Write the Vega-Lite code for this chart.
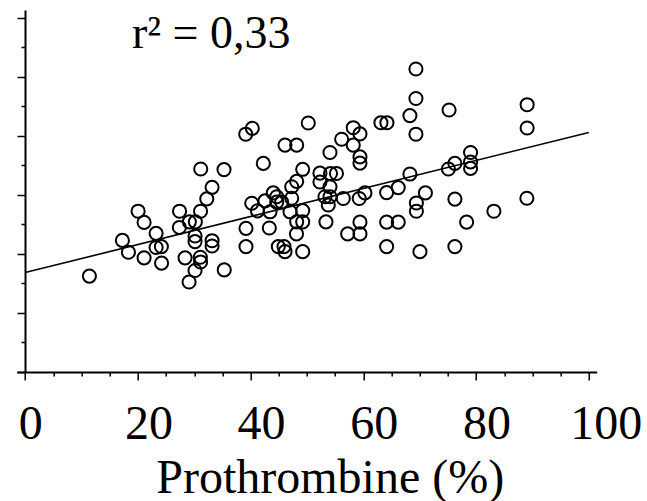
{
  "$schema": "https://vega.github.io/schema/vega-lite/v6.json",
  "autosize": "none",
  "width": 580,
  "height": 362,
  "padding": {"left": 16.7, "top": 10, "right": 50.3, "bottom": 129},
  "background": "white",
  "config": {"view": {"stroke": null}},
  "datasets": {
    "points": [
      {"prothrombine": 11.40, "value": 3.25}, {"prothrombine": 17.25, "value": 4.46}, {"prothrombine": 18.32, "value": 4.06},
      {"prothrombine": 20.04, "value": 5.45}, {"prothrombine": 21.10, "value": 5.07}, {"prothrombine": 21.10, "value": 3.87},
      {"prothrombine": 23.23, "value": 4.70}, {"prothrombine": 23.23, "value": 4.22}, {"prothrombine": 24.17, "value": 4.25},
      {"prothrombine": 24.20, "value": 3.69}, {"prothrombine": 27.39, "value": 5.45}, {"prothrombine": 27.36, "value": 4.90},
      {"prothrombine": 28.37, "value": 3.87}, {"prothrombine": 29.13, "value": 5.09}, {"prothrombine": 30.20, "value": 5.09},
      {"prothrombine": 31.15, "value": 6.88}, {"prothrombine": 35.28, "value": 6.86}, {"prothrombine": 33.16, "value": 6.26},
      {"prothrombine": 32.22, "value": 5.87}, {"prothrombine": 31.12, "value": 5.45}, {"prothrombine": 30.14, "value": 4.61},
      {"prothrombine": 30.14, "value": 4.42}, {"prothrombine": 31.08, "value": 3.89}, {"prothrombine": 31.12, "value": 3.73},
      {"prothrombine": 30.14, "value": 3.44}, {"prothrombine": 29.08, "value": 3.05}, {"prothrombine": 33.16, "value": 4.45},
      {"prothrombine": 33.16, "value": 4.27}, {"prothrombine": 35.32, "value": 3.46}, {"prothrombine": 39.13, "value": 8.06},
      {"prothrombine": 40.30, "value": 8.26}, {"prothrombine": 42.25, "value": 7.07}, {"prothrombine": 46.10, "value": 7.69},
      {"prothrombine": 48.17, "value": 7.69}, {"prothrombine": 50.23, "value": 8.44}, {"prothrombine": 39.18, "value": 4.87},
      {"prothrombine": 39.18, "value": 4.25}, {"prothrombine": 40.20, "value": 5.72}, {"prothrombine": 41.22, "value": 5.46},
      {"prothrombine": 42.55, "value": 5.80}, {"prothrombine": 43.44, "value": 5.43}, {"prothrombine": 44.02, "value": 6.07},
      {"prothrombine": 44.63, "value": 5.94}, {"prothrombine": 44.63, "value": 5.76}, {"prothrombine": 45.51, "value": 5.76},
      {"prothrombine": 43.32, "value": 4.88}, {"prothrombine": 44.91, "value": 4.25}, {"prothrombine": 45.92, "value": 4.25},
      {"prothrombine": 46.10, "value": 4.08}, {"prothrombine": 47.29, "value": 6.28}, {"prothrombine": 48.17, "value": 6.46},
      {"prothrombine": 47.29, "value": 5.89}, {"prothrombine": 46.99, "value": 5.43}, {"prothrombine": 49.24, "value": 5.47},
      {"prothrombine": 48.17, "value": 5.09}, {"prothrombine": 49.24, "value": 5.09}, {"prothrombine": 48.14, "value": 4.68},
      {"prothrombine": 49.24, "value": 4.08}, {"prothrombine": 49.24, "value": 6.87}, {"prothrombine": 52.30, "value": 6.74},
      {"prothrombine": 52.30, "value": 6.44}, {"prothrombine": 54.17, "value": 6.73}, {"prothrombine": 55.23, "value": 6.73},
      {"prothrombine": 54.08, "value": 6.28}, {"prothrombine": 53.19, "value": 5.94}, {"prothrombine": 54.08, "value": 5.94},
      {"prothrombine": 53.78, "value": 5.66}, {"prothrombine": 56.44, "value": 5.88}, {"prothrombine": 53.37, "value": 5.09},
      {"prothrombine": 54.08, "value": 7.44}, {"prothrombine": 56.15, "value": 7.89}, {"prothrombine": 58.21, "value": 8.28},
      {"prothrombine": 59.40, "value": 8.07}, {"prothrombine": 58.21, "value": 7.69}, {"prothrombine": 59.40, "value": 7.29},
      {"prothrombine": 59.40, "value": 7.08}, {"prothrombine": 63.12, "value": 8.45}, {"prothrombine": 64.18, "value": 8.45},
      {"prothrombine": 59.27, "value": 5.88}, {"prothrombine": 60.28, "value": 6.07}, {"prothrombine": 64.13, "value": 6.08},
      {"prothrombine": 66.19, "value": 6.25}, {"prothrombine": 59.40, "value": 5.08}, {"prothrombine": 57.22, "value": 4.68},
      {"prothrombine": 59.40, "value": 4.68}, {"prothrombine": 64.13, "value": 5.08}, {"prothrombine": 66.19, "value": 5.08},
      {"prothrombine": 64.13, "value": 4.25}, {"prothrombine": 68.26, "value": 8.69}, {"prothrombine": 69.33, "value": 10.27},
      {"prothrombine": 69.33, "value": 9.27}, {"prothrombine": 69.33, "value": 8.06}, {"prothrombine": 75.21, "value": 8.88},
      {"prothrombine": 89.06, "value": 9.06}, {"prothrombine": 89.06, "value": 8.27}, {"prothrombine": 68.26, "value": 6.71},
      {"prothrombine": 75.09, "value": 6.88}, {"prothrombine": 76.24, "value": 7.07}, {"prothrombine": 79.02, "value": 7.44},
      {"prothrombine": 79.02, "value": 7.12}, {"prothrombine": 79.02, "value": 6.90}, {"prothrombine": 71.01, "value": 6.07},
      {"prothrombine": 69.41, "value": 5.73}, {"prothrombine": 69.41, "value": 5.45}, {"prothrombine": 76.24, "value": 5.86},
      {"prothrombine": 89.01, "value": 5.89}, {"prothrombine": 83.16, "value": 5.45}, {"prothrombine": 78.32, "value": 5.08},
      {"prothrombine": 76.24, "value": 4.25}, {"prothrombine": 70.04, "value": 4.08}
    ],
    "fit": [
      {"prothrombine": 0, "value": 3.37},
      {"prothrombine": 100, "value": 8.12}
    ],
    "note": [
      {"prothrombine": 33, "value": 10.98, "text": "r² = 0,33"}
    ]
  },
  "encoding": {
    "x": {
      "field": "prothrombine",
      "type": "quantitative",
      "scale": {"domain": [-1.5, 101.4], "nice": false, "zero": false},
      "axis": {
        "title": "Prothrombine (%)",
        "values": [0, 5, 10, 15, 20, 25, 30, 35, 40, 45, 50, 55, 60, 65, 70, 75, 80, 85, 90, 95, 100],
        "labelExpr": "datum.value % 20 === 0 ? datum.label : ''",
        "tickSize": {"condition": {"test": "datum.value % 20 === 0", "value": 8}, "value": 4},
        "labelOffset": {"condition": [
          {"test": "datum.value === 0", "value": 5},
          {"test": "datum.value === 100", "value": 17}
        ], "value": 10.5},
        "grid": false,
        "domainColor": "black",
        "domainWidth": 2,
        "tickColor": "black",
        "tickWidth": 1.5,
        "labelFont": "Liberation Serif",
        "labelFontSize": 48,
        "labelColor": "black",
        "labelPadding": 20,
        "labelFlush": false,
        "labelOverlap": false,
        "titleFont": "Liberation Serif",
        "titleFontSize": 48,
        "titleFontWeight": "normal",
        "titleColor": "black",
        "titleX": 313,
        "titleY": 120,
        "titleAlign": "center",
        "titleBaseline": "alphabetic"
      }
    },
    "y": {
      "field": "value",
      "type": "quantitative",
      "scale": {"domain": [0, 12.27], "nice": false, "zero": false},
      "axis": {
        "title": null,
        "values": [0, 1, 2, 3, 4, 5, 6, 7, 8, 9, 10, 11, 12],
        "labels": false,
        "offset": -8.3,
        "tickSize": {"condition": {"test": "datum.value % 2 === 0", "value": 8}, "value": 4},
        "grid": false,
        "domainColor": "black",
        "domainWidth": 2,
        "tickColor": "black",
        "tickWidth": 1.5
      }
    }
  },
  "layer": [
    {
      "data": {"name": "points"},
      "mark": {"type": "point", "shape": "circle", "filled": false, "stroke": "black", "strokeWidth": 2, "size": 172, "opacity": 1}
    },
    {
      "data": {"name": "fit"},
      "mark": {"type": "line", "color": "black", "strokeWidth": 1.6}
    },
    {
      "data": {"name": "note"},
      "mark": {"type": "text", "font": "Liberation Serif", "fontSize": 46, "align": "center", "baseline": "alphabetic", "color": "black"},
      "encoding": {"text": {"field": "text"}}
    }
  ]
}
